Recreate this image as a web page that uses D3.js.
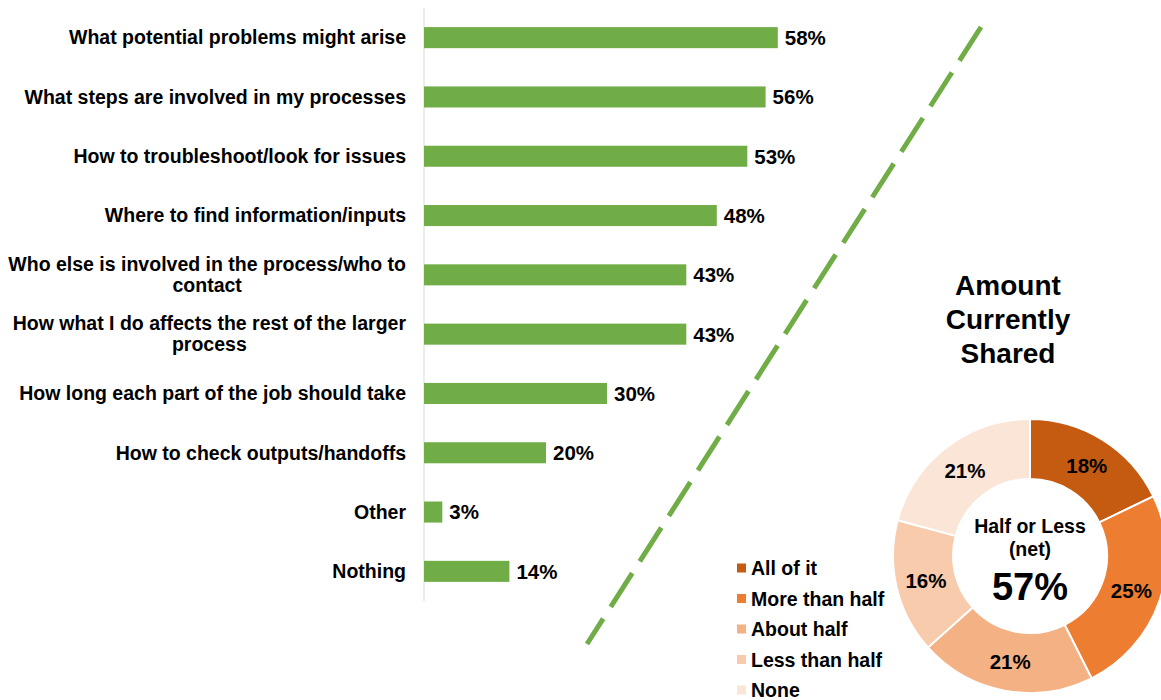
<!DOCTYPE html>
<html>
<head>
<meta charset="utf-8">
<script src="https://cdn.jsdelivr.net/npm/d3@7"></script>
<style>
	body { margin: 0; background: #fff; }
	svg text { font-family: "Liberation Sans", Arial, sans-serif; font-weight: bold; fill: #000; }
</style>
</head>
<body>
<div id="chart"></div>
<script>
//Data
var categories = [
	"What potential problems might arise",
	"What steps are involved in my processes",
	"How to troubleshoot/look for issues",
	"Where to find information/inputs",
	"Who else is involved in the process/who to contact",
	"How what I do affects the rest of the larger process",
	"How long each part of the job should take",
	"How to check outputs/handoffs",
	"Other",
	"Nothing"
];
var barValues = [58, 56, 53, 48, 43, 43, 30, 20, 3, 14];

var shareLabels = ["All of it", "More than half", "About half", "Less than half", "None"];
var shareValues = [18, 25, 21, 16, 21];
var shareColors = ["#C55A11", "#ED7D31", "#F4B183", "#F8CBAD", "#FBE5D6"];
var netLabel = ["Half or Less", "(net)"];
var netValue = 57;
var donutTitle = ["Amount", "Currently", "Shared"];

var width = 1161;
var height = 700;

var svg = d3.select("#chart")
	.append("svg")
	.attr("width", width)
	.attr("height", height);

//Scales
var x = d3.scaleLinear()
	.domain([0, 100])
	.range([424, 1034]);

var y = d3.scaleBand()
	.domain(categories)
	.range([8, 601])
	.paddingInner(0.645)
	.paddingOuter(0.3225);

//Left axis line only
svg.append("line")
	.attr("x1", x(0)).attr("x2", x(0))
	.attr("y1", y.range()[0]).attr("y2", y.range()[1])
	.attr("stroke", "#D9D9D9")
	.attr("stroke-width", 1);

//Category labels
var labels = svg.selectAll(".cat")
	.data(categories)
	.enter()
	.append("text")
	.attr("class", "cat")
	.attr("font-size", "19.5px")
	.attr("text-anchor", "end")
	.attr("x", x(0) - 18)
	.attr("y", function(d) { return y(d) + y.bandwidth() / 2; })
	.attr("dy", "0.35em")
	.text(function(d) { return d; })
	.call(wrap, 402);

//Bars
svg.selectAll(".bar")
	.data(barValues)
	.enter()
	.append("rect")
	.attr("class", "bar")
	.attr("x", x(0))
	.attr("y", function(d, i) { return y(categories[i]); })
	.attr("width", function(d) { return x(d) - x(0); })
	.attr("height", y.bandwidth())
	.attr("fill", "#70AD47");

//Value labels
svg.selectAll(".val")
	.data(barValues)
	.enter()
	.append("text")
	.attr("class", "val")
	.attr("font-size", "20.5px")
	.attr("x", function(d) { return x(d) + 7; })
	.attr("y", function(d, i) { return y(categories[i]) + y.bandwidth() / 2; })
	.attr("dy", "0.36em")
	.text(function(d) { return d + "%"; });

//Dashed divider
svg.append("line")
	.attr("x1", 981).attr("y1", 27)
	.attr("x2", 587).attr("y2", 644)
	.attr("stroke", "#70AD47")
	.attr("stroke-width", 5)
	.attr("stroke-dasharray", "40,14");

//Donut
var cx = 1030, cy = 556;
var pie = d3.pie().sort(null).value(function(d) { return d; });
var arc = d3.arc().innerRadius(77).outerRadius(137);
var labelArc = d3.arc().innerRadius(107).outerRadius(107);

var donut = svg.append("g")
	.attr("transform", "translate(" + cx + "," + cy + ")");

donut.selectAll("path")
	.data(pie(shareValues))
	.enter()
	.append("path")
	.attr("d", arc)
	.attr("fill", function(d, i) { return shareColors[i]; })
	.attr("stroke", "#fff")
	.attr("stroke-width", 2);

donut.selectAll(".slice-label")
	.data(pie(shareValues))
	.enter()
	.append("text")
	.attr("class", "slice-label")
	.attr("font-size", "20.5px")
	.attr("text-anchor", "middle")
	.attr("dy", "0.36em")
	.attr("transform", function(d) { return "translate(" + labelArc.centroid(d) + ")"; })
	.text(function(d) { return d.data + "%"; });

//Center text
donut.selectAll(".net")
	.data(netLabel)
	.enter()
	.append("text")
	.attr("class", "net")
	.attr("font-size", "19.5px")
	.attr("text-anchor", "middle")
	.attr("y", function(d, i) { return -23 + i * 23; })
	.text(function(d) { return d; });

donut.append("text")
	.attr("font-size", "38px")
	.attr("text-anchor", "middle")
	.attr("y", 44)
	.text(netValue + "%");

//Donut title
svg.selectAll(".title")
	.data(donutTitle)
	.enter()
	.append("text")
	.attr("class", "title")
	.attr("font-size", "28px")
	.attr("text-anchor", "middle")
	.attr("x", 1008)
	.attr("y", function(d, i) { return 295 + i * 34; })
	.text(function(d) { return d; });

//Legend
var legend = svg.selectAll(".legend")
	.data(shareLabels)
	.enter()
	.append("g")
	.attr("class", "legend")
	.attr("transform", function(d, i) { return "translate(737," + (568 + i * 30.5) + ")"; });

legend.append("rect")
	.attr("y", -4.5)
	.attr("width", 9)
	.attr("height", 9)
	.attr("fill", function(d, i) { return shareColors[i]; });

legend.append("text")
	.attr("x", 14)
	.attr("dy", "0.36em")
	.attr("font-size", "19.5px")
	.text(function(d) { return d; });

//Wraps long category labels over two lines, block centred like the original
function wrap(text, maxWidth) {
	text.each(function() {
		var text = d3.select(this),
			words = text.text().split(/\s+/).reverse(),
			word,
			line = [],
			lines = [],
			xRight = +text.attr("x"),
			yMid = +text.attr("y");
		text.text(null);
		var probe = text.append("tspan");
		while (word = words.pop()) {
			line.push(word);
			probe.text(line.join(" "));
			if (probe.node().getComputedTextLength() > maxWidth && line.length > 1) {
				line.pop();
				lines.push(line.join(" "));
				line = [word];
			}
		}
		lines.push(line.join(" "));
		if (lines.length === 1) {
			probe.text(lines[0]);
			return;
		}
		probe.text(lines[0]);
		var w = probe.node().getComputedTextLength();
		probe.remove();
		var lineHeight = 21;
		text.attr("text-anchor", "middle").attr("dy", null);
		lines.forEach(function(l, i) {
			text.append("tspan")
				.attr("x", xRight - w / 2)
				.attr("y", yMid + (i - (lines.length - 1) / 2) * lineHeight)
				.attr("dy", "0.35em")
				.text(l);
		});
	});
}
</script>
</body>
</html>
